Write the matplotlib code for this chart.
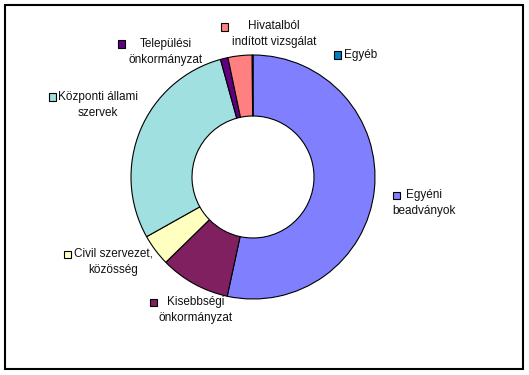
"""Donut chart: beadványok megoszlása (Excel-style legend labels)."""
import matplotlib.pyplot as plt
from matplotlib.patches import Rectangle

plt.rcParams["font.family"] = ["Liberation Sans", "DejaVu Sans"]

W, H = 529, 375

# ---- data ----------------------------------------------------------------- #
cats = ["Egyéni\nbeadványok", "Kisebbségi\nönkormányzat", "Civil szervezet,\nközösség",
        "Központi állami\nszervek", "Települési\nönkormányzat",
        "Hivatalból\nindított vizsgálat", "Egyéb"]
shares = [53.5, 9.3, 4.2, 28.9, 1.0, 3.2, 0.1]
colors = ["#8080FF", "#802060", "#FFFFC0", "#A0E0E0", "#600080", "#FF8080", "#0080C0"]

# label layout in pixels from top-left: (square x, square y, text x, text y, ha)
layout = [(396, 195, 424, 203, "center"),
          (153, 302, 196, 310, "center"),
          (67, 254, 113, 262, "center"),
          (52, 97, 98, 105, "center"),
          (121, 44, 166, 52, "center"),
          (224, 27, 274, 34, "center"),
          (337, 55, 344, 55, "left")]


def fx(px): return px / W
def fy(py): return 1 - py / H


fig = plt.figure(figsize=(W / 100, H / 100), dpi=100)
fig.patch.set_facecolor("white")

# outer frame
fig.patches.append(Rectangle((fx(5), fy(369)), fx(518), 364 / H, transform=fig.transFigure,
                             fill=False, edgecolor="black", lw=1.5))

cx, cy, R = 253, 177, 122
ax = fig.add_axes([fx(cx - R), fy(cy + R), 2 * R / W, 2 * R / H])
ax.pie(shares, colors=colors, startangle=90, counterclock=False, radius=1,
       wedgeprops=dict(width=0.5, edgecolor="black", linewidth=0.8))
ax.set_xlim(-1, 1); ax.set_ylim(-1, 1); ax.set_aspect("equal"); ax.axis("off")

for name, col, (sx, sy, tx, ty, ha) in zip(cats, colors, layout):
    fig.patches.append(Rectangle((fx(sx - 3.5), fy(sy + 3.5)), 7 / W, 7 / H,
                                 transform=fig.transFigure, facecolor=col,
                                 edgecolor="black", lw=0.8))
    fig.text(fx(tx), fy(ty), name, ha=ha, va="center", ma="center",
             fontsize=8.5, linespacing=1.45, color="#111111")

fig.savefig("out.png", dpi=100)
